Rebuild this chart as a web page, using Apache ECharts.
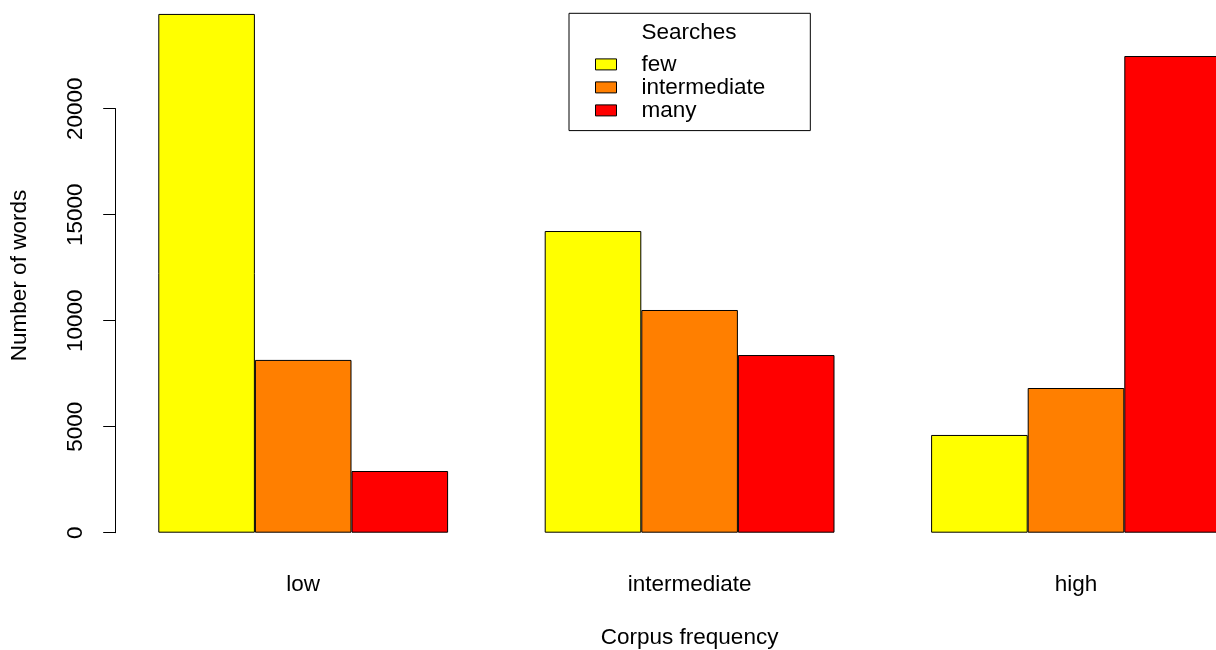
<!DOCTYPE html>
<html>
<head>
<meta charset="utf-8">
<script src="https://cdn.jsdelivr.net/npm/echarts@6/dist/echarts.min.js"></script>
<style>html,body{margin:0;padding:0;background:#fff;}#c{width:1216px;height:650px;}</style>
</head>
<body>
<div id="c"></div>
<script>
const categories = ['low', 'intermediate', 'high'];
const seriesNames = ['few', 'intermediate', 'many'];
const fewValues = [24470, 14230, 4610];
const intermediateValues = [8150, 10505, 6825];
const manyValues = [2910, 8380, 22485];
const yTicks = [0, 5000, 10000, 15000, 20000];
const colors = ['#FFFF00', '#FF7F00', '#FF0000'];

const FONT = "'Liberation Sans', Arial, sans-serif";
const FS = 22.5;
const values = [fewValues, intermediateValues, manyValues];

const chart = echarts.init(document.getElementById('c'), null, {renderer: 'canvas'});
chart.setOption({
  animation: false,
  backgroundColor: '#fff',
  textStyle: {fontFamily: FONT},
  title: {
    text: 'Searches', left: 689, top: 21, padding: 0, textAlign: 'center',
    textStyle: {fontFamily: FONT, fontSize: FS, fontWeight: 'normal', color: '#000'}
  },
  legend: {
    data: seriesNames,
    orient: 'vertical',
    left: 569, top: 13.3,
    padding: [39.6, 45, 8.7, 26],
    itemGap: 0,
    itemWidth: 21, itemHeight: 11,
    icon: 'rect',
    selectedMode: false,
    borderColor: '#000', borderWidth: 1,
    itemStyle: {borderColor: '#000', borderWidth: 1},
    textStyle: {fontFamily: FONT, fontSize: FS, color: '#000', lineHeight: 22.8, padding: [0, 0, 0, 20]}
  },
  grid: {left: 110, top: 108.7, width: 1159.2, height: 424, containLabel: false, outerBoundsMode: 'none'},
  xAxis: {
    type: 'category', data: categories,
    axisLine: {show: false}, axisTick: {show: false},
    axisLabel: {margin: 41, fontFamily: FONT, fontSize: FS, color: '#000'},
    name: 'Corpus frequency', nameLocation: 'middle', nameGap: 94,
    nameTextStyle: {fontFamily: FONT, fontSize: FS, color: '#000'}
  },
  yAxis: {
    type: 'value', min: 0, max: 20000, interval: 5000, offset: -5.7,
    axisLine: {show: true, lineStyle: {color: '#000', width: 1}},
    axisTick: {show: true, length: 12.5, lineStyle: {color: '#000', width: 1}},
    splitLine: {show: false},
    axisLabel: {
      rotate: 90, margin: 28, fontFamily: FONT, fontSize: FS, color: '#000',
      formatter: v => String(v)
    }
  },
  graphic: [{
    type: 'text', x: 20, y: 275.5, rotation: Math.PI / 2,
    style: {text: 'Number of words', font: FS + 'px ' + FONT, fill: '#000', align: 'center', verticalAlign: 'middle'}
  }],
  series: seriesNames.map((n, i) => ({
    name: n, type: 'bar', data: values[i], clip: false,
    barGap: '0%', barCategoryGap: '25%',
    itemStyle: {color: colors[i], borderColor: '#000', borderWidth: 1}
  }))
});
</script>
</body>
</html>
